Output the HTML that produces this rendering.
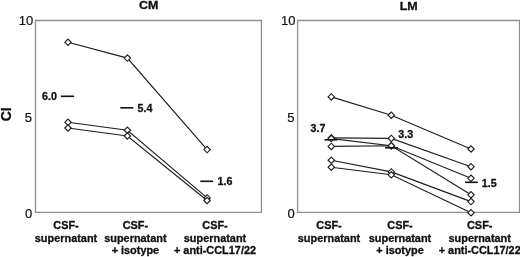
<!DOCTYPE html>
<html><head><meta charset="utf-8"><title>CI chart</title>
<style>
html,body{margin:0;padding:0;background:#fff;}
svg{display:block;}
text{font-family:"Liberation Sans",Arial,Helvetica,sans-serif;fill:#111;stroke:#111;stroke-width:0.3px;stroke-linejoin:round;}
.b{font-weight:bold;}
.tk{font-size:13px;text-anchor:end;stroke-width:0.2px;}
.xl{font-size:10.2px;font-weight:bold;text-anchor:middle;}
.an{font-size:10.2px;font-weight:bold;}
.tt{font-size:11.8px;font-weight:bold;text-anchor:middle;}
</style></head><body>
<svg width="520" height="257" viewBox="0 0 520 257">
<rect x="0" y="0" width="520" height="257" fill="#fff"/>

<g fill="none" stroke="#909090" stroke-width="1.3">
<path d="M35.5 212.4V20.5H261.4V212.4Z"/>
<path d="M297.6 212.4V20.5H519.5V212.4Z"/>
</g>
<text class="tt" transform="translate(148.8 9.4) scale(1.06 1)">CM</text>
<text class="tt" transform="translate(408.7 9.5) scale(1.06 1)">LM</text>
<text class="tk" x="33.3" y="25.2">10</text>
<text class="tk" x="32.1" y="121.7">5</text>
<text class="tk" x="32.2" y="217.5">0</text>
<text class="tk" x="295.5" y="25.2">10</text>
<text class="tk" x="294.6" y="121.7">5</text>
<text class="tk" x="294.7" y="217.5">0</text>
<text class="b" font-size="14" text-anchor="middle" transform="translate(11.1 114.3) rotate(-90)">CI</text>
<g fill="none" stroke="#1e1e1e" stroke-width="1.15">
<polyline points="68.0,42.3 127.4,58.1 207.1,149.6"/>
<polyline points="68.0,122.3 127.4,130.2 207.1,197.9"/>
<polyline points="68.0,128.0 127.4,136.0 207.1,200.5"/>
<polyline points="331.3,96.9 391.3,115.2 471.0,149.0"/>
<polyline points="331.3,137.9 391.3,138.4 471.0,166.7"/>
<polyline points="331.3,138.6 391.3,145.8 471.0,178.3"/>
<polyline points="331.3,146.4 391.3,145.8 471.0,194.8"/>
<polyline points="331.3,160.2 391.3,171.9 471.0,201.6"/>
<polyline points="331.3,167.2 391.3,174.8 471.0,212.7"/>
</g>
<g fill="#fff" stroke="#1e1e1e" stroke-width="1.15">
<path d="M64.8 42.3L68.0 39.1L71.2 42.3L68.0 45.5Z"/>
<path d="M124.2 58.1L127.4 54.9L130.6 58.1L127.4 61.3Z"/>
<path d="M203.9 149.6L207.1 146.4L210.3 149.6L207.1 152.8Z"/>
<path d="M64.8 122.3L68.0 119.1L71.2 122.3L68.0 125.5Z"/>
<path d="M124.2 130.2L127.4 127.0L130.6 130.2L127.4 133.4Z"/>
<path d="M203.9 197.9L207.1 194.7L210.3 197.9L207.1 201.1Z"/>
<path d="M64.8 128.0L68.0 124.8L71.2 128.0L68.0 131.2Z"/>
<path d="M124.2 136.0L127.4 132.8L130.6 136.0L127.4 139.2Z"/>
<path d="M203.9 200.5L207.1 197.3L210.3 200.5L207.1 203.7Z"/>
<path d="M328.1 96.9L331.3 93.7L334.5 96.9L331.3 100.1Z"/>
<path d="M388.1 115.2L391.3 112.0L394.5 115.2L391.3 118.4Z"/>
<path d="M467.8 149.0L471.0 145.8L474.2 149.0L471.0 152.2Z"/>
<path d="M328.1 137.9L331.3 134.7L334.5 137.9L331.3 141.1Z"/>
<path d="M388.1 138.4L391.3 135.2L394.5 138.4L391.3 141.6Z"/>
<path d="M467.8 166.7L471.0 163.5L474.2 166.7L471.0 169.9Z"/>
<path d="M328.1 138.6L331.3 135.4L334.5 138.6L331.3 141.8Z"/>
<path d="M388.1 145.8L391.3 142.6L394.5 145.8L391.3 149.0Z"/>
<path d="M467.8 178.3L471.0 175.1L474.2 178.3L471.0 181.5Z"/>
<path d="M328.1 146.4L331.3 143.2L334.5 146.4L331.3 149.6Z"/>
<path d="M388.1 145.8L391.3 142.6L394.5 145.8L391.3 149.0Z"/>
<path d="M467.8 194.8L471.0 191.6L474.2 194.8L471.0 198.0Z"/>
<path d="M328.1 160.2L331.3 157.0L334.5 160.2L331.3 163.4Z"/>
<path d="M388.1 171.9L391.3 168.7L394.5 171.9L391.3 175.1Z"/>
<path d="M467.8 201.6L471.0 198.4L474.2 201.6L471.0 204.8Z"/>
<path d="M328.1 167.2L331.3 164.0L334.5 167.2L331.3 170.4Z"/>
<path d="M388.1 174.8L391.3 171.6L394.5 174.8L391.3 178.0Z"/>
<path d="M467.8 212.7L471.0 209.5L474.2 212.7L471.0 215.9Z"/>
</g>
<g stroke="#111" stroke-width="1.6" fill="none">
<path d="M60.9 96.3H74.1"/>
<path d="M120.3 107.8H133.3"/>
<path d="M200.3 181.3H213.1"/>
<path d="M324.5 139.8H337.3"/>
<path d="M385.1 147.8H397.8"/>
<path d="M465.1 182.3H477.8"/>
</g>
<text class="an" transform="translate(42.0 99.8) scale(1.05 1)">6.0</text>
<text class="an" transform="translate(137.6 111.5) scale(1.05 1)">5.4</text>
<text class="an" transform="translate(217.6 185.0) scale(1.05 1)">1.6</text>
<text class="an" transform="translate(310.5 132.3) scale(1.05 1)">3.7</text>
<text class="an" transform="translate(398.3 137.5) scale(1.05 1)">3.3</text>
<text class="an" transform="translate(481.8 186.6) scale(1.05 1)">1.5</text>
<text class="xl" transform="translate(66.0 229.0) scale(1.07 1)">CSF-</text>
<text class="xl" transform="translate(66.0 241.7) scale(1.07 1)">supernatant</text>
<text class="xl" transform="translate(135.4 229.0) scale(1.07 1)">CSF-</text>
<text class="xl" transform="translate(135.4 241.7) scale(1.07 1)">supernatant</text>
<text class="xl" transform="translate(135.4 254.4) scale(1.07 1)">+ isotype</text>
<text class="xl" transform="translate(215.0 229.0) scale(1.07 1)">CSF-</text>
<text class="xl" transform="translate(215.0 241.7) scale(1.07 1)">supernatant</text>
<text class="xl" transform="translate(215.0 254.4) scale(1.07 1)">+ anti-CCL17/22</text>
<text class="xl" transform="translate(329.0 229.0) scale(1.07 1)">CSF-</text>
<text class="xl" transform="translate(329.0 241.7) scale(1.07 1)">supernatant</text>
<text class="xl" transform="translate(400.0 229.0) scale(1.07 1)">CSF-</text>
<text class="xl" transform="translate(400.0 241.7) scale(1.07 1)">supernatant</text>
<text class="xl" transform="translate(400.0 254.4) scale(1.07 1)">+ isotype</text>
<text class="xl" transform="translate(479.7 229.0) scale(1.07 1)">CSF-</text>
<text class="xl" transform="translate(479.7 241.7) scale(1.07 1)">supernatant</text>
<text class="xl" transform="translate(479.7 254.4) scale(1.07 1)">+ anti-CCL17/22</text>
</svg></body></html>
